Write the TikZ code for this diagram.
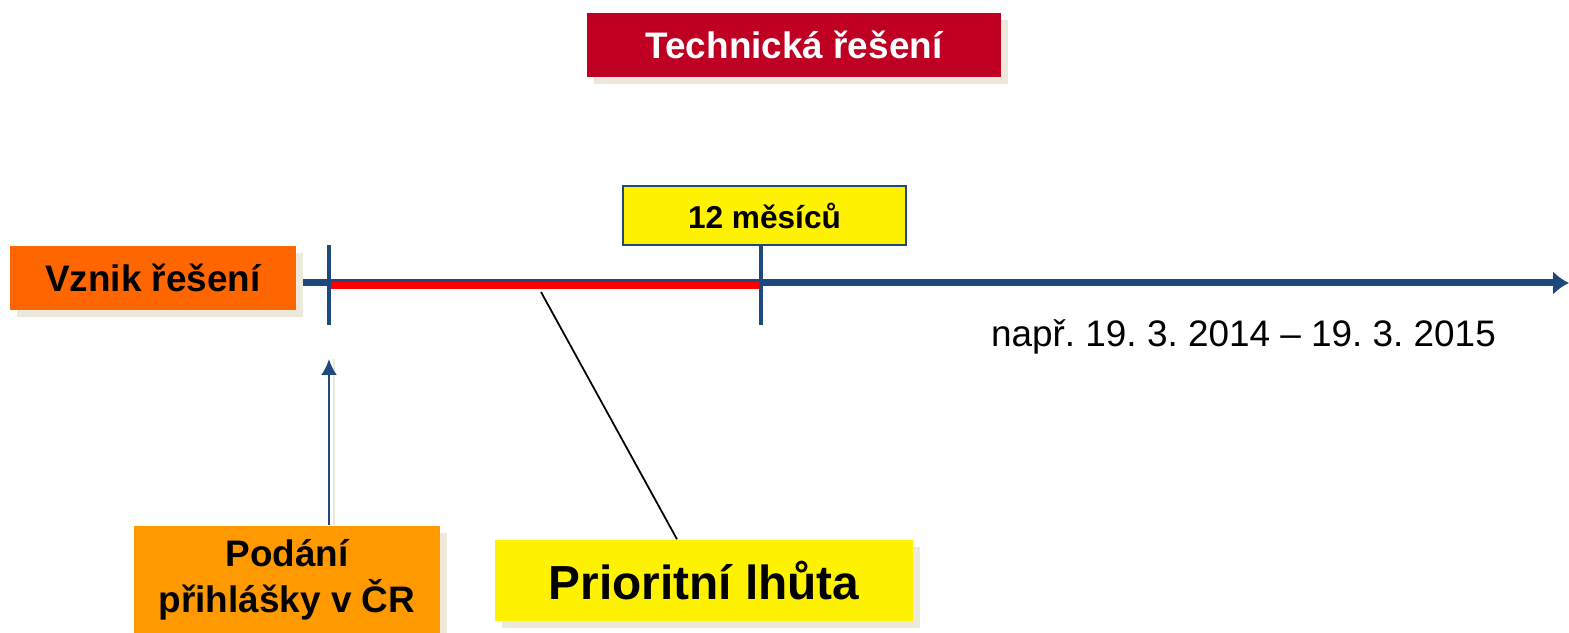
\documentclass[tikz,border=0pt]{standalone}
\usepackage{fontspec}
\setmainfont{Liberation Sans}
\usetikzlibrary{arrows.meta,shadows}
\definecolor{osa}{RGB}{31,73,125}
\definecolor{stin}{RGB}{236,233,220}
\definecolor{vinova}{RGB}{192,0,35}
\definecolor{oranzova}{RGB}{255,102,0}
\definecolor{svoranz}{RGB}{255,153,0}
\tikzset{
  box/.style={inner sep=0pt, align=center, font=\bfseries\fontsize{10.5}{13.1}\selectfont,
    drop shadow={shadow xshift=.07, shadow yshift=-.07, fill=stin, opacity=1}},
  stinline/.style={stin, line width=2pt, shift={(.05,-.06)}}
}
\frenchspacing
\begin{document}
\begin{tikzpicture}[>=latex]
\useasboundingbox (0,0) rectangle (15.69,6.33);

% nadpis
\node[box, fill=vinova, text=white, minimum width=4.14cm, minimum height=.64cm] (nadpis) at (7.94,5.88) {Technická řešení};

% casova osa
\coordinate (osa-z) at (3.03,3.50);
\coordinate (osa-k) at (15.69,3.50);
\coordinate (t1-h) at (3.29,3.88);
\coordinate (t1-d) at (3.29,3.08);
\coordinate (t2-d) at (7.61,3.08);
\coordinate (r1) at (3.29,3.475);
\coordinate (r2) at (7.61,3.475);
\coordinate (rx) at (5.41,3.41);

\node[box, fill=oranzova, minimum width=2.86cm, minimum height=.64cm] (vznik) at (1.53,3.55) {Vznik řešení};
\node[draw=osa, fill=yellow, inner sep=0pt, font=\bfseries\fontsize{9}{11}\selectfont,
  minimum width=2.83cm, minimum height=.59cm] (lhuta) at (7.645,4.175) {12 měsíců};

\draw[stinline] (osa-z) -- ([xshift=-2mm]osa-k);
\draw[stinline, line width=1.1pt] (t1-h) -- (t1-d);
\draw[stinline, line width=1.1pt] (lhuta.south -| t2-d) -- (t2-d);
\draw[osa, line width=2pt, -{Latex[length=1.6mm,width=2.4mm]}] (osa-z) -- (osa-k);
\draw[red, line width=2pt] (r1) -- (r2);
\draw[osa, line width=1.1pt] (t1-h) -- (t1-d);
\draw[osa, line width=1.1pt] (lhuta.south -| t2-d) -- (t2-d);

\node[font=\fontsize{10.5}{13}\selectfont] (datum) at (12.435,2.96) {např. 19. 3. 2014 – 19. 3. 2015};

% spodni pole
\node[box, fill=svoranz, minimum width=3.06cm, minimum height=1.07cm] (podani) at (2.87,.535) {Podání\\přihlášky v ČR};
\node[box, fill=yellow, font=\bfseries\fontsize{13.6}{16}\selectfont, minimum width=4.18cm, minimum height=.81cm] (priorita) at (7.04,.525) {Prioritní lhůta};

\coordinate (sipka) at (3.29,2.74);
\draw[stin, line width=.8pt] ([xshift=.5mm]podani.north -| sipka) -- ([xshift=.5mm]sipka);
\draw[osa, line width=.8pt, -{Latex[length=1.6mm,width=1.6mm]}] (podani.north -| sipka) -- (sipka);
\draw[black, line width=.5pt] ([xshift=-.27cm]priorita.north) -- (rx);
\end{tikzpicture}
\end{document}
